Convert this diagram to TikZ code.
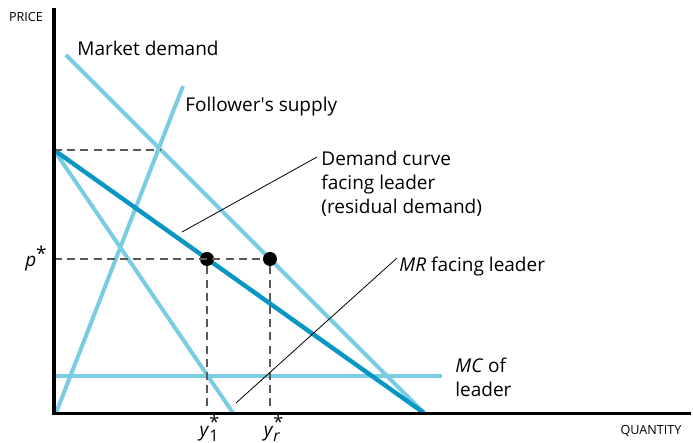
\documentclass[tikz,border=0pt]{standalone}
\usepackage{fontspec}
\setmainfont{Open Sans}
\definecolor{lightcurve}{RGB}{122,204,226}
\definecolor{darkcurve}{RGB}{8,150,196}
\newcommand{\starsub}[2]{\textit{#1}\rlap{\raisebox{0.8ex}{\small *}}\raisebox{-0.45ex}{\footnotesize #2}}
\begin{document}
\begin{tikzpicture}[
    x=0.5pt, y=-0.5pt,
    % Curve styles
    curve/.style={lightcurve, line width=2pt},
    resid/.style={darkcurve, line width=2.2pt},
    axis/.style={black, line width=1.5pt},
    guide/.style={black!65, line width=0.6pt, dash pattern=on 4pt off 2.6pt},
    leader/.style={black, line width=0.4pt},
    % Labels
    lbl/.style={font=\fontsize{9.5}{12}\selectfont, inner sep=0pt, align=left},
    axislbl/.style={font=\fontsize{6.3}{7}\selectfont, inner sep=0pt},
    dot/.style={circle, fill=black, minimum size=7pt, inner sep=0pt},
]
\useasboundingbox (0,0) rectangle (693,443);

% key points
\coordinate (origin) at (54,414);
\coordinate (ytop) at (54,8);
\coordinate (xend) at (691,414);
\coordinate (pint) at (54,150);
\coordinate (pstar) at (54,259);
\coordinate (cross) at (160,150);
\coordinate (mdtop) at (66,55);
\coordinate (qend) at (424,413);
\coordinate (fstop) at (183,86);
\coordinate (fsbot) at (56,413);
\coordinate (mrend) at (233,413);
\coordinate (mcend) at (442,376);
\coordinate (mcstart) at (54,376);

% curves
\draw[curve] (mdtop) -- (qend);
\draw[curve] (fsbot) -- (fstop);
\draw[curve] (pint) -- (mrend);
\draw[curve] (mcstart) -- (mcend);
\draw[resid] (pint) -- (qend);

% dashed guides
\node[dot] (leader) at (207,259) {};
\node[dot] (market) at (270,259) {};
\coordinate (y1) at (207,414);
\coordinate (yr) at (270,414);
\draw[guide] (pint) -- (cross);
\draw[guide] (pstar) -- (market);
\draw[guide] (leader) -- (y1);
\draw[guide] (market) -- (yr);

% axes
\draw[axis] (ytop) -- (origin) -- (xend);
\node[axislbl] (price) at (26,17) {PRICE};
\node[axislbl] (quantity) at (651,431) {QUANTITY};

% labels
\node[lbl, anchor=west] (mdlbl) at (77,48) {Market demand};
\node[lbl, anchor=west] (fslbl) at (185,107) {Follower\textquotesingle s supply};
\node[lbl, anchor=north west] (rdlbl) at (321,151) {Demand curve\\facing leader\\(residual demand)};
\node[lbl, anchor=west] (mrlbl) at (399,267) {\textit{MR} facing leader};
\node[lbl, anchor=north west] (mclbl) at (455,358) {\textit{MC} of\\leader};
\node[lbl] (plbl) at (36,259) {\textit{p}\raisebox{0.6ex}{*}};
\node[lbl] (y1lbl) at (209,428) {\starsub{y}{1}};
\node[lbl] (yrlbl) at (272,428) {\starsub{y}{\textit{r}}};

% leader lines
\coordinate (rdtip) at (182,232);
\coordinate (rdend) at (317,157);
\coordinate (mrtip) at (236,403);
\coordinate (mrlend) at (397,258);
\draw[leader] (rdtip) -- (rdend);
\draw[leader] (mrtip) -- (mrlend);

\end{tikzpicture}
\end{document}
